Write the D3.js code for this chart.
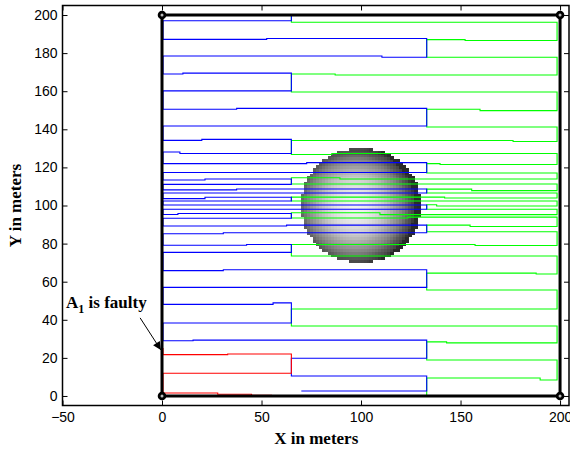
<!DOCTYPE html>
<html><head><meta charset="utf-8">
<script src="https://cdn.jsdelivr.net/npm/d3@7"></script>
<style>html,body{margin:0;padding:0;background:#fff;overflow:hidden}</style>
</head><body>
<svg id="c" width="570" height="453"></svg>
<script>
// ---- data (metres) ----
const xTicks = [-50, 0, 50, 100, 150, 200];
const yTicks = [0, 20, 40, 60, 80, 100, 120, 140, 160, 180, 200];
const xDomain = [-50, 205];
const yDomain = [-5, 205];
// sweep lanes, top to bottom
const laneBlueY  = [197.0, 187.2, 178.5, 169.0, 160.2, 150.5, 141.7, 134.2, 128.1, 122.0, 117.3, 113.4, 111.1, 108.2, 106.6, 103.6, 102.4, 100.3, 98.0, 95.3, 93.3, 89.2, 85.2, 79.1, 75.4, 65.8, 57.0, 48.1, 38.3, 29.0, 19.8, 10.5, 2.6];
const laneBlueJogX  = [0, 52.6, 110.5, 10.5, 0, 37.5, 0, 20, 9, 72.7, 0, 21.6, 0, 37.5, 0, 21.6, 0, 0, 0, 8, 0, 62.6, 30.8, 42.5, 0, 30.8, 0, 55.8, 0, 15.6, 0, 0, 0];
const laneBlueJogDy = [0, 0.5, -0.7, 0.5, 0, 0.5, 0, 0.5, -0.8, 0.5, 0, 0.5, 0, 0.5, 0, 0.7, 0, 0, 0, 0.5, 0, 0.5, 0.5, 0.4, 0, 0.5, 0, 0.8, 0, 0.3, 0, 0, 0];
const laneGreenY = [196.2, 187.1, 177.8, 169.0, 159.6, 150.5, 141.2, 134.1, 126.8, 122.0, 117.1, 114.6, 111.3, 108.6, 106.6, 104.4, 102.4, 100.4, 98.0, 96.2, 93.4, 89.7, 86.2, 79.5, 73.5, 64.5, 55.6, 45.7, 36.7, 28.4, 18.9, 9.4, 0.0];
const laneGreenJogX  = [0, 152.3, 0, 87, 0, 159.8, 0, 176.4, 85.3, 139.7, 0, 89.4, 0, 155.6, 0, 142, 0, 138, 0, 109.5, 123.6, 154.8, 0, 157.3, 0, 188, 0, 0, 0, 143, 0, 190, 0];
const laneGreenJogDy = [0, -0.5, 0, -0.5, 0, -0.7, 0, -0.5, 0.5, -0.5, 0, -0.7, 0, -0.8, 0, -0.5, 0, -0.7, 0, -1.0, 0.5, -0.7, 0, -0.5, 0, -0.5, 0, 0, 0, -0.5, 0, -1.0, 0];
const laneStart  = [0.5, 0.5, 0.5, 0.5, 0.5, 0.5, 0.5, 0.5, 0.5, 0.5, 0.5, 0.5, 0.5, 0.5, 0.5, 0.5, 0.5, 0.5, 0.5, 0.5, 0.5, 0.5, 0.5, 0.5, 0.5, 0.5, 0.5, 0.5, 0.5, 0.5, 65, 65, 70];
const laneSplit  = [65, 133, 133, 65, 65, 133, 133, 65, 65, 133, 133, 65, 65, 133, 133, 65, 65, 133, 133, 65, 65, 133, 133, 65, 65, 133, 133, 65, 65, 133, 133, 133, 133];
const laneEnd = 198.5;
// robot A1 (faulty) path
const redPath = [[0.5, 25.2], [0.5, 21.7], [33, 21.7], [33, 22.0], [65, 22.0], [65, 11.9], [0.5, 11.9], [0.5, 1.6], [28, 1.6], [28, 0.9], [45, 0.9], [45, 0.4], [55, 0.4], [55, 0], [67, 0]];
// field boundary and obstacle
const fieldX = [0, 200, 200, 0, 0];
const fieldY = [0, 0, 200, 200, 0];
const cornerX = [0, 200, 200, 0];
const cornerY = [0, 0, 200, 200];
const obstacle = {cx: 100, cy: 100, r: 30, lightX: 97, lightY: 100};
// annotation
const noteText = {x: -48.2, y: 46.0};
const arrowFrom = [-11, 41];
const arrowTo = [-0.6, 24.2];

// ---- drawing ----
const svg = d3.select('#c');
const x = d3.scaleLinear().domain(xDomain).range([62.5, 570]);
const y = d3.scaleLinear().domain(yDomain).range([405.5, 5.5]);
const line = d3.line().x(d => x(d[0])).y(d => y(d[1]));
const defs = svg.append('defs');

// obstacle: faceted grey sphere (cells of 1.5 m)
const step = 1.5;
const shade = d3.scaleLinear().domain([0, 0.45, 0.75, 1]).range(['#2a2a2a', '#5a5a5a', '#a0a0a0', '#f2f2f2']).clamp(true);
const cells = [];
d3.range(obstacle.cy - obstacle.r, obstacle.cy + obstacle.r, step).forEach(r0 => {
  d3.range(obstacle.cx - obstacle.r, obstacle.cx + obstacle.r, step).forEach(c0 => {
    const xc = c0 + step / 2, yc = r0 + step / 2;
    const d2 = ((xc - obstacle.cx) ** 2 + (yc - obstacle.cy) ** 2) / (obstacle.r * obstacle.r);
    if (d2 > 1) return;
    const l2 = ((xc - obstacle.lightX) ** 2 + (yc - obstacle.lightY) ** 2) / (obstacle.r * obstacle.r);
    const v = Math.sqrt(Math.max(0, 1 - l2 * 0.95));
    cells.push({x0: c0, y0: r0, v: v});
  });
});
svg.append('g').attr('shape-rendering', 'crispEdges').selectAll('rect').data(cells).join('rect')
  .attr('x', d => Math.floor(x(d.x0))).attr('width', d => Math.ceil(x(d.x0 + step)) - Math.floor(x(d.x0)))
  .attr('y', d => Math.floor(y(d.y0 + step))).attr('height', d => Math.ceil(y(d.y0)) - Math.floor(y(d.y0 + step)))
  .attr('fill', d => shade(d.v));

// blue path (sweeps from the top boundary downwards)
const bluePts = [[laneSplit[0], 200]];
laneBlueY.forEach((yy, i) => {
  const jx = laneBlueJogX[i], jd = laneBlueJogDy[i];
  const a = [laneStart[i], yy], b = [laneSplit[i], yy + jd];
  const mid = jd ? [[jx, yy], [jx, yy + jd]] : [];
  if (i % 2 === 0) bluePts.push(b, ...mid.reverse(), a); else bluePts.push(a, ...mid, b);
});
// green path
const greenPts = [[laneSplit[0], 200]];
laneGreenY.forEach((yy, i) => {
  const jx = laneGreenJogX[i], jd = laneGreenJogDy[i];
  const a = [laneSplit[i], yy], b = [laneEnd, yy + jd];
  const mid = jd ? [[jx, yy], [jx, yy + jd]] : [];
  if (i % 2 === 0) greenPts.push(a, ...mid, b); else greenPts.push(b, ...mid.reverse(), a);
});
greenPts.push([200, 0]);

svg.append('path').attr('d', line(greenPts)).attr('fill', 'none').attr('stroke', '#00ff00').attr('stroke-width', 1.1);
svg.append('path').attr('d', line(bluePts)).attr('fill', 'none').attr('stroke', '#0000ff').attr('stroke-width', 1.1);
svg.append('path').attr('d', line(redPath)).attr('fill', 'none').attr('stroke', '#ff0000').attr('stroke-width', 1.1);

// field boundary
svg.append('path').attr('d', line(fieldX.map((v, i) => [v, fieldY[i]])))
  .attr('fill', 'none').attr('stroke', '#000').attr('stroke-width', 3);
svg.append('g').selectAll('circle').data(cornerX.map((v, i) => [v, cornerY[i]])).join('circle')
  .attr('cx', d => x(d[0])).attr('cy', d => y(d[1])).attr('r', 2.9)
  .attr('fill', '#bbb').attr('stroke', '#000').attr('stroke-width', 2.8);

// axes
const ax = svg.append('g').attr('font-family', '"Liberation Sans", Arial, sans-serif');
ax.append('g').attr('transform', `translate(0,${y(yDomain[0])})`)
  .call(d3.axisBottom(x).tickValues(xTicks).tickSizeInner(-5).tickSizeOuter(0).tickPadding(7).tickFormat(d => d < 0 ? '\u2212' + Math.abs(d) : d));
ax.append('g').attr('transform', `translate(0,${y(yDomain[1])})`)
  .call(d3.axisTop(x).tickValues(xTicks).tickSizeInner(-5).tickSizeOuter(0).tickFormat(''));
ax.append('g').attr('transform', `translate(${x(xDomain[0])},0)`)
  .call(d3.axisLeft(y).tickValues(yTicks).tickSizeInner(-5).tickSizeOuter(0).tickPadding(5));
ax.append('g').attr('transform', `translate(${x(xDomain[1]) - 1},0)`)
  .call(d3.axisRight(y).tickValues(yTicks).tickSizeInner(-5).tickSizeOuter(0).tickFormat(''));
ax.selectAll('.domain').remove();
ax.selectAll('.tick line').attr('stroke', '#000').attr('stroke-width', 1);
ax.selectAll('.tick text').attr('font-size', 14).attr('fill', '#000');
svg.append('rect').attr('x', x(xDomain[0])).attr('y', y(yDomain[1]))
  .attr('width', x(xDomain[1]) - x(xDomain[0]) - 1).attr('height', y(yDomain[0]) - y(yDomain[1]))
  .attr('fill', 'none').attr('stroke', '#000').attr('stroke-width', 1.5);

// axis titles
svg.append('text').attr('x', (x(xDomain[0]) + x(xDomain[1])) / 2).attr('y', 444)
  .attr('text-anchor', 'middle').attr('font-family', '"Liberation Serif", "Times New Roman", serif')
  .attr('font-weight', 'bold').attr('font-size', 17).text('X in meters');
svg.append('text').attr('transform', `translate(21,${(y(yDomain[0]) + y(yDomain[1])) / 2}) rotate(-90)`)
  .attr('text-anchor', 'middle').attr('font-family', '"Liberation Serif", "Times New Roman", serif')
  .attr('font-weight', 'bold').attr('font-size', 17).text('Y in meters');

// annotation
defs.append('marker').attr('id', 'ah').attr('viewBox', '0 0 10 10').attr('refX', 10).attr('refY', 5)
  .attr('markerWidth', 12).attr('markerHeight', 8).attr('markerUnits', 'userSpaceOnUse').attr('orient', 'auto')
  .append('path').attr('d', 'M0,0 L10,5 L0,10 Z').attr('fill', '#000');
svg.append('line').attr('x1', x(arrowFrom[0])).attr('y1', y(arrowFrom[1]))
  .attr('x2', x(arrowTo[0])).attr('y2', y(arrowTo[1]))
  .attr('stroke', '#000').attr('stroke-width', 1).attr('marker-end', 'url(#ah)');
const nt = svg.append('text').attr('x', x(noteText.x)).attr('y', y(noteText.y))
  .attr('font-family', '"Liberation Serif", "Times New Roman", serif').attr('font-weight', 'bold').attr('font-size', 17);
nt.append('tspan').text('A');
nt.append('tspan').attr('font-size', 12).attr('dy', 5).text('1');
nt.append('tspan').attr('dy', -5).text(' is faulty');
</script>
</body></html>
